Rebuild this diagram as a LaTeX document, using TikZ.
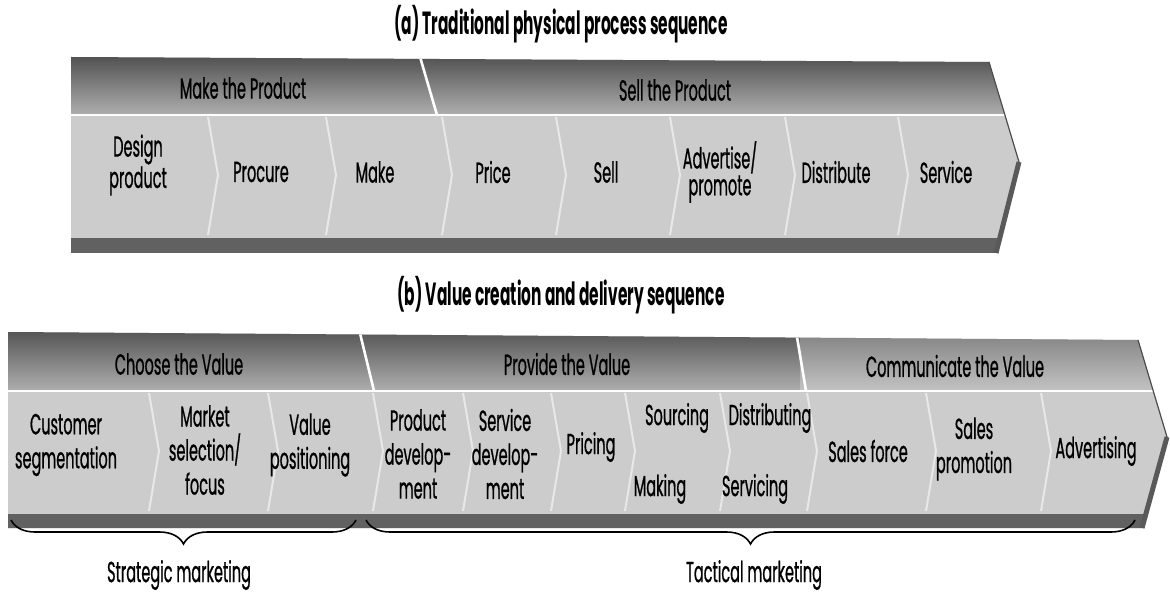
\documentclass[tikz,border=0pt]{standalone}
\usepackage{fontspec}
\setmainfont{Poppins}[FakeStretch=0.5, FakeBold=0.7]
\newfontfamily\titlefont{Poppins}[FakeStretch=0.48]
\usetikzlibrary{decorations.pathreplacing}

\begin{document}
\begin{tikzpicture}[x=0.5pt,y=-0.5pt,
	lbl/.style={font=\fontsize{14.5}{12}\selectfont, align=center, inner sep=0pt},
	lblb/.style={font=\fontsize{14.5}{17}\selectfont, align=center, inner sep=0pt},
	ttl/.style={font=\titlefont\bfseries\fontsize{16}{16}\selectfont, anchor=base, inner sep=0pt},
	seam/.style={white, opacity=0.55, line width=1pt},
	cut/.style={white, line width=1.3pt},
	brace/.style={decorate, decoration={brace, mirror, amplitude=12pt}, line width=0.8pt}]
	\useasboundingbox (0,0) rectangle (1170,592);

	% (a) traditional sequence
	\node[ttl] (ttla) at (561,35) {(a) Traditional physical process sequence};
	\fill[black!20] (71,57) -- (989,62) -- (1019,162) -- (996,253) -- (71,253) -- cycle;
	\begin{scope}
	\clip (71,57) -- (989,62) -- (1019,162) -- (996,253) -- (71,253) -- cycle;
	\shade[top color=black!72, bottom color=black!32] (60,50) rectangle (1030,114);
	\fill[black!62] (60,238) rectangle (1030,260);
	\draw[cut] (60,115) -- (1030,115);
	\draw[cut] (418,50) -- (437,115);
	\foreach \x in {208,326,442,556,670,785,898}
		\draw[seam] (\x,117) -- ++(10,58) -- ++(-10,60);
	\end{scope}
	\draw[black!70, line width=0.6pt] (989,62) -- (1019,162);
	\draw[black!65, line width=2.5pt] (1019,162) -- (996,253);

	\node[lbl] (makep) at (243,88) {Make the Product};
	\node[lbl] (sellp) at (675,90) {Sell the Product};
	\node[lbl] (design) at (138,165) {Design\\product};
	\node[lbl] (procure) at (261,172) {Procure};
	\node[lbl] (make) at (375,172) {Make};
	\node[lbl] (price) at (493,172) {Price};
	\node[lbl] (sell) at (606,172) {Sell};
	\node[lbl] (advert) at (720,172) {Advertise/\\promote};
	\node[lbl] (distrib) at (836,172) {Distribute};
	\node[lbl] (service) at (946,172) {Service};

	% (b) value creation sequence
	\node[ttl] (ttlb) at (561,306) {(b) Value creation and delivery sequence};
	\fill[black!20] (8,332) -- (1138,340) -- (1167,437) -- (1142,528) -- (8,528) -- cycle;
	\begin{scope}
	\clip (8,332) -- (1138,340) -- (1167,437) -- (1142,528) -- (8,528) -- cycle;
	\shade[top color=black!70, bottom color=black!32] (0,325) rectangle (800,390);
	\shade[top color=black!52, bottom color=black!24] (800,325) rectangle (1170,390);
	\fill[black!62] (0,514) rectangle (1170,535);
	\draw[cut] (0,391) -- (1170,391);
	\draw[cut] (358,325) -- (374,391);
	\draw[cut] (795,325) -- (806,391);
	\foreach \x in {149,268,373,463,551,625,720,807,926,1041}
		\draw[seam] (\x,393) -- ++(10,58) -- ++(-10,60);
	\end{scope}
	\draw[black!70, line width=0.6pt] (1138,340) -- (1167,437);
	\draw[black!65, line width=2.5pt] (1167,437) -- (1142,528);

	\node[lbl] (choose) at (179,364) {Choose the Value};
	\node[lbl] (provide) at (567,364) {Provide the Value};
	\node[lbl] (commun) at (955,366) {Communicate the Value};
	\node[lblb] (custseg) at (66,445) {Customer\\segmentation};
	\node[lblb] (market) at (205,450) {Market\\selection/\\focus};
	\node[lblb] (valpos) at (310,445) {Value\\positioning};
	\node[lblb] (proddev) at (418,454) {Product\\develop-\\ment};
	\node[lblb] (servdev) at (505,454) {Service\\develop-\\ment};
	\node[lbl] (pricing) at (591,447) {Pricing};
	\node[lbl] (sourcing) at (677,418) {Sourcing};
	\node[lbl] (making) at (660,489) {Making};
	\node[lbl] (distribg) at (770,418) {Distributing};
	\node[lbl] (servicg) at (755,489) {Servicing};
	\node[lbl] (salesf) at (868,451) {Sales force};
	\node[lblb] (salesp) at (974,449) {Sales\\promotion};
	\node[lbl] (advertg) at (1096,451) {Advertising};

	% marketing braces
	\coordinate (sl) at (11,520);
	\coordinate (sr) at (356,520);
	\coordinate (tl) at (366,520);
	\coordinate (tr) at (1135,520);
	\draw[brace] (sl) -- (sr);
	\draw[brace] (tl) -- (tr);
	\node[lbl] (strat) at (179,575) {Strategic marketing};
	\node[lbl] (tact) at (754,575) {Tactical marketing};
\end{tikzpicture}
\end{document}
